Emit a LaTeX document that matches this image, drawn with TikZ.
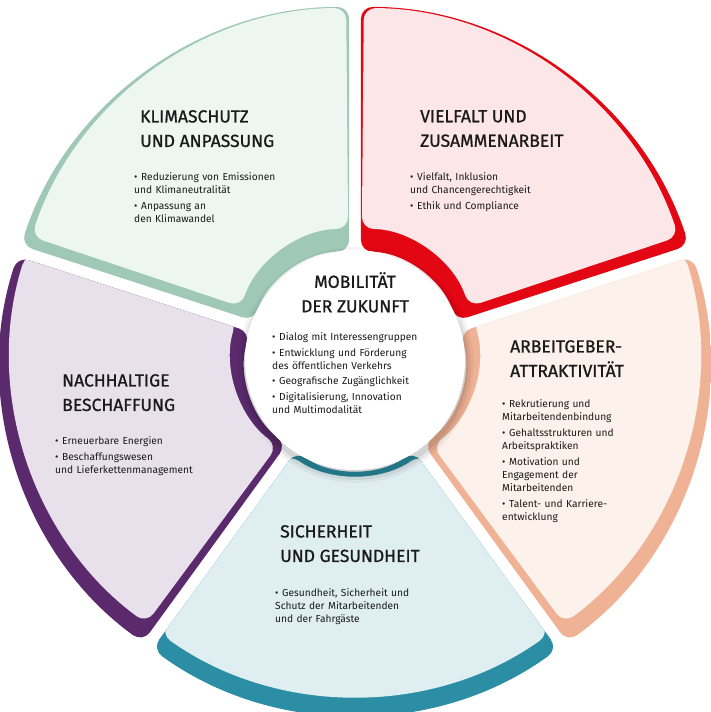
\documentclass[tikz,border=0pt]{standalone}
\usepackage{fontspec}
\setmainfont{Fira Sans}
\newfontfamily\tf[RawFeature={embolden=0.9}]{Fira Sans}
\definecolor{cR}{HTML}{E30613}\definecolor{lR}{HTML}{FCE6E8}
\definecolor{cS}{HTML}{F0B295}\definecolor{lS}{HTML}{FDF1EB}
\definecolor{cT}{HTML}{2B8EA5}\definecolor{lT}{HTML}{DFEEF1}
\definecolor{cP}{HTML}{5A2A6C}\definecolor{lP}{HTML}{E8E1EC}
\definecolor{cG}{HTML}{9FC9B6}\definecolor{lG}{HTML}{EEF6F2}
\definecolor{txt}{HTML}{1A1A1A}
\newcommand\seg[3]{%
\begin{scope}[shift={(355,352)},shift={(#1:10)}]
\path[clip,rounded corners=12] ({#1-36}:345) arc[start angle={#1-36},end angle={#1+36},radius=345] -- ({#1+36}:100) arc[start angle={#1+36},end angle={#1-36},radius=100] -- cycle;
\fill[#2] (-400,-400) rectangle (400,400);
\fill[#3,rounded corners=12,yshift=9] ({#1-35.5}:335) arc[start angle={#1-35.5},end angle={#1+35.5},radius=335] -- ({#1+35.5}:114) arc[start angle={#1+35.5},end angle={#1-35.5},radius=114] -- cycle;
\end{scope}}
\newcommand\bl[1]{\par\hangindent=7pt\hangafter=1\noindent\makebox[7pt][l]{•}#1\par\vspace{2.5pt}}
\tikzset{ttl/.style={anchor=north west,align=left,font=\tf\fontsize{17.5}{24.5}\selectfont,text=txt,inner sep=0},
 bul/.style={anchor=north west,text width=#1,font=\fontsize{10.2}{13.2}\selectfont,text=txt,inner sep=0}}
\begin{document}
\begin{tikzpicture}[x=1pt,y=1pt]
\useasboundingbox (0,0) rectangle (710,712);
\fill[white] (0,0) rectangle (710,712);
\seg{54}{cR}{lR}
\seg{-18}{cS}{lS}
\seg{-90}{cT}{lT}
\seg{198}{cP}{lP}
\seg{126}{cG}{lG}
\foreach \r/\o in {118/0.04,115/0.06,112/0.08}{\fill[black,opacity=\o] (356,347) circle (\r);}
\node[circle,fill=white,minimum size=220,inner sep=0] (c) at (355,352) {};
% texts
\node[ttl] (t1) at (140,602) {KLIMASCHUTZ\\UND ANPASSUNG};
\node[bul=150] (b1) at (134,545) {\bl{Reduzierung von Emissionen\\und Klimaneutralität}\bl{Anpassung an\\den Klimawandel}};
\node[ttl] (t2) at (420,602) {VIELFALT UND\\ZUSAMMENARBEIT};
\node[bul=150] (b2) at (410,545) {\bl{Vielfalt, Inklusion\\und Chancengerechtigkeit}\bl{Ethik und Compliance}};
\node[ttl,anchor=north,align=center] (t0) at (355,440) {MOBILITÄT\\DER ZUKUNFT};
\node[bul=170] (b0) at (272,385) {\bl{Dialog mit Interessengruppen}\bl{Entwicklung und Förderung\\des öffentlichen Verkehrs}\bl{Geografische Zugänglichkeit}\bl{Digitalisierung, Innovation\\und Multimodalität}};
\node[ttl] (t3) at (510,372) {ARBEITGEBER-\\ATTRAKTIVITÄT};
\node[bul=150] (b3) at (502,318) {\bl{Rekrutierung und\\Mitarbeitendenbindung}\bl{Gehaltsstrukturen und\\Arbeitspraktiken}\bl{Motivation und\\Engagement der\\Mitarbeitenden}\bl{Talent- und Karriere-\\entwicklung}};
\node[ttl] (t4) at (62,338) {NACHHALTIGE\\BESCHAFFUNG};
\node[bul=190] (b4) at (55,281) {\bl{Erneuerbare Energien}\bl{Beschaffungswesen\\und Lieferkettenmanagement}};
\node[ttl] (t5) at (280,187) {SICHERHEIT\\UND GESUNDHEIT};
\node[bul=190] (b5) at (275,129) {\bl{Gesundheit, Sicherheit und\\Schutz der Mitarbeitenden\\und der Fahrgäste}};
\end{tikzpicture}
\end{document}
